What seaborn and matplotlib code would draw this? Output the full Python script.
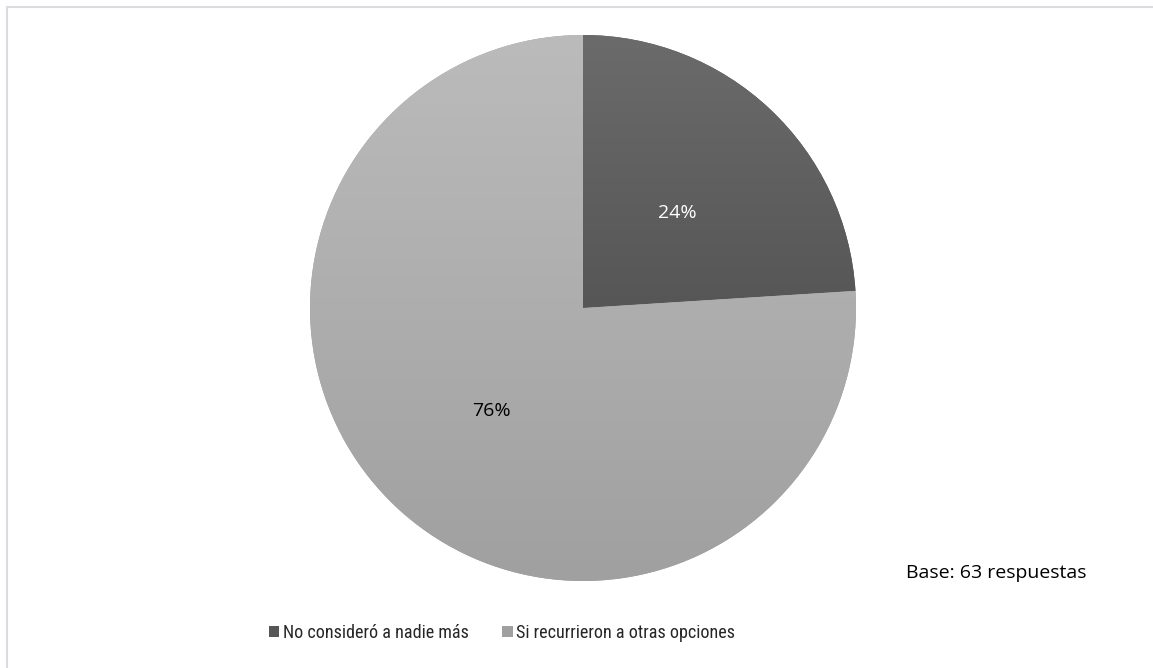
import numpy as np
import matplotlib
matplotlib.use("Agg")
import matplotlib.pyplot as plt
from matplotlib import font_manager
from matplotlib.patches import Rectangle
from matplotlib.colors import LinearSegmentedColormap
import seaborn as sns

# Survey answers (share of 63 responses)
categories = ["No consideró a nadie más", "Si recurrieron a otras opciones"]
shares = [24, 76]
pct_labels = ["24%", "76%"]
base_note = "Base: 63 respuestas"

sns.set_theme(style="white")

available = {f.name for f in font_manager.fontManager.ttflist}
narrow = next((f for f in ["Liberation Sans Narrow", "Roboto Condensed",
                           "Open Sans Condensed", "DejaVu Sans Condensed",
                           "Open Sans"] if f in available), "DejaVu Sans")
body = "Open Sans" if "Open Sans" in available else "DejaVu Sans"
plt.rcParams["font.family"] = [narrow, "DejaVu Sans"]

W, H = 1153, 668
fig = plt.figure(figsize=(W / 100, H / 100), dpi=100)
fig.patch.set_facecolor("white")

# pie area: centre (583, 308) px, radius ~273 px
ax = fig.add_axes([310 / W, 1 - 581 / H, 546 / W, 546 / H])
ax.set_aspect("equal")

# top/bottom shades of the vertical gradient for each slice
grad = [("#6b6b6b", "#565656"), ("#bbbbbb", "#a0a0a0")]
solid = [g[1] for g in grad]

wedges, _ = ax.pie(shares, startangle=90, counterclock=False,
                   colors=solid, radius=1.0,
                   wedgeprops=dict(linewidth=0))

# vertical gradient fill clipped to each wedge
for w, (top, bot) in zip(wedges, grad):
    verts = w.get_path().vertices
    y0, y1 = verts[:, 1].min(), verts[:, 1].max()
    cmap = LinearSegmentedColormap.from_list("g", [bot, top])
    img = np.linspace(0, 1, 256).reshape(-1, 1)
    im = ax.imshow(img, cmap=cmap, extent=(-1, 1, y0, y1), origin="lower",
                   aspect="auto", zorder=w.get_zorder() + 0.1,
                   interpolation="bilinear")
    im.set_clip_path(w)
ax.set_xlim(-1, 1)
ax.set_ylim(-1, 1)
ax.axis("off")

# percentage labels inside the slices
def px_to_data(px, py):
    return ((px - 583) / 273, (308 - py) / 273)

for (lx, ly), txt, col in zip([(677, 213), (491, 411)], pct_labels,
                              ["white", "black"]):
    x, y = px_to_data(lx, ly)
    ax.text(x, y, txt, ha="center", va="center", fontsize=14, color=col,
            family=[body, "DejaVu Sans"], zorder=5)

# legend along the bottom
handles = [Rectangle((0, 0), 1, 1, facecolor=s, edgecolor="none") for s in solid]
fig.legend(handles, categories, loc="center", bbox_to_anchor=(502 / W, 1 - 633 / H),
           ncol=2, frameon=False, fontsize=13.1, handlelength=0.58, handleheight=0.58,
           handletextpad=0.2, columnspacing=1.85)

fig.text(906 / W, 1 - 578 / H, base_note, ha="left", va="baseline",
         fontsize=14, color="black", family=[body, "DejaVu Sans"])

# thin outer frame of the chart area
fig.patches.append(Rectangle((7 / W, -0.1), 1.2, (1 - 7 / H) + 0.1,
                             transform=fig.transFigure, fill=False,
                             edgecolor="#d9dde2", linewidth=1.5))

fig.savefig("out.png", dpi=100)
